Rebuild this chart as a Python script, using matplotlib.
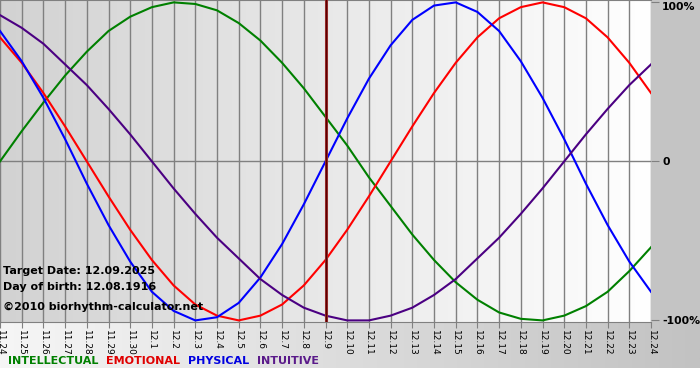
import numpy as np
import matplotlib.pyplot as plt
from matplotlib.colors import LinearSegmentedColormap

# day labels (month.day), 11.24 .. 12.24
days = ['11.24', '11.25', '11.26', '11.27', '11.28', '11.29', '11.30',
        '12.1', '12.2', '12.3', '12.4', '12.5', '12.6', '12.7', '12.8', '12.9',
        '12.10', '12.11', '12.12', '12.13', '12.14', '12.15', '12.16', '12.17',
        '12.18', '12.19', '12.20', '12.21', '12.22', '12.23', '12.24']
target_day = '12.9'

# values, -1 .. 1
intellectual = [0.00, 0.19, 0.37, 0.54, 0.69, 0.82, 0.91, 0.97, 1.00, 0.99, 0.95,
                0.87, 0.76, 0.62, 0.46, 0.28, 0.10, -0.10, -0.28, -0.46, -0.62,
                -0.76, -0.87, -0.95, -0.99, -1.00, -0.97, -0.91, -0.82, -0.69, -0.54]
emotional = [0.78, 0.62, 0.43, 0.22, 0.00, -0.22, -0.43, -0.62, -0.78, -0.90, -0.97,
             -1.00, -0.97, -0.90, -0.78, -0.62, -0.43, -0.22, 0.00, 0.22, 0.43,
             0.62, 0.78, 0.90, 0.97, 1.00, 0.97, 0.90, 0.78, 0.62, 0.43]
physical = [0.82, 0.63, 0.40, 0.14, -0.14, -0.40, -0.63, -0.82, -0.94, -1.00, -0.98,
            -0.89, -0.73, -0.52, -0.27, 0.00, 0.27, 0.52, 0.73, 0.89, 0.98,
            1.00, 0.94, 0.82, 0.63, 0.40, 0.14, -0.14, -0.40, -0.63, -0.82]
intuitive = [0.92, 0.84, 0.74, 0.61, 0.48, 0.33, 0.17, 0.00, -0.17, -0.33, -0.48,
             -0.61, -0.74, -0.84, -0.92, -0.97, -1.00, -1.00, -0.97, -0.92, -0.84,
             -0.74, -0.61, -0.48, -0.33, -0.17, 0.00, 0.17, 0.33, 0.48, 0.61]

info = ['Target Date: 12.09.2025', 'Day of birth: 12.08.1916', '\u00a92010 biorhythm-calculator.net']

fig = plt.figure(figsize=(7, 3.8), dpi=100)
fig.patch.set_facecolor('white')

ax_bottom = 1 - 322 / 380
ax_right = 651 / 700

# gray panel on the right
panel = fig.add_axes([ax_right, ax_bottom, 1 - ax_right, 1 - ax_bottom])
panel.set_facecolor('#c4c4c4')
panel.set_xticks([])
panel.set_yticks([])
for s in panel.spines.values():
    s.set_visible(False)

# gradient band under the chart
band = fig.add_axes([0, 12 / 380, 1, ax_bottom - 12 / 380])
band.imshow(np.linspace(0, 1, 256)[None, :],
            cmap=LinearSegmentedColormap.from_list('b', ['#f6f6f6', '#c2c2c2']),
            aspect='auto', extent=[0, 1, 0, 1])
band.axis('off')

ax = fig.add_axes([0, ax_bottom, ax_right, 1 - ax_bottom])
ax.set_zorder(5)
ax.patch.set_alpha(0)
x = np.arange(len(days))
ax.imshow(np.linspace(0, 1, 256)[None, :],
          cmap=LinearSegmentedColormap.from_list('g', ['#d2d2d2', '#ffffff']),
          aspect='auto', extent=[0, len(days) - 1, -1.01, 1.015], zorder=0)

for xi in x:
    ax.axvline(xi, color='#808080', lw=1.0, zorder=1)
ax.axhline(0, color='#808080', lw=1.0, zorder=1)

ax.plot(x, intellectual, color='#008000', lw=1.5, zorder=3)
ax.plot(x, emotional, color='#ff0000', lw=1.5, zorder=3)
ax.plot(x, physical, color='#0000ff', lw=1.5, zorder=3)
ax.plot(x, intuitive, color='#4b0082', lw=1.5, zorder=3)

ti = days.index(target_day)
ax.axvline(ti, color='#a03030', lw=2.2, zorder=4)
ax.axvline(ti, color='#5a0000', lw=1.0, zorder=4)

ax.set_xlim(0, len(days) - 1)
ax.set_ylim(-1.01, 1.015)
ax.set_xticks(x)
ax.set_xticklabels(days, rotation=270, fontsize=6.5)
ax.tick_params(axis='x', length=4, color='#808080', pad=2)
ax.yaxis.tick_right()
ax.set_yticks([1, 0, -1])
ax.set_yticklabels(['100%', '0', '-100%'], fontweight='bold', fontsize=7.8)
ax.get_yticklabels()[0].set_va('top')
ax.tick_params(axis='y', length=6, color='#808080', pad=2)
for s in ['left', 'right']:
    ax.spines[s].set_visible(False)
for s in ['top', 'bottom']:
    ax.spines[s].set_color('#808080')

for t, yp in zip(info, [271, 287, 307]):
    fig.text(3 / 700, 1 - yp / 380, t, fontsize=8, fontweight='bold', va='center', ha='left', zorder=10)

legend = [('INTELLECTUAL', '#008000'), ('EMOTIONAL', '#e00000'),
          ('PHYSICAL', '#0000e0'), ('INTUITIVE', '#5a1a8a')]
xp = 8
for name, col in legend:
    t = fig.text(xp / 700, 1 - 361 / 380, name, color=col, fontsize=8, fontweight='bold',
                 va='center', zorder=10)
    fig.canvas.draw()
    xp += t.get_window_extent().width + 8

fig.savefig('out.png', dpi=100)
